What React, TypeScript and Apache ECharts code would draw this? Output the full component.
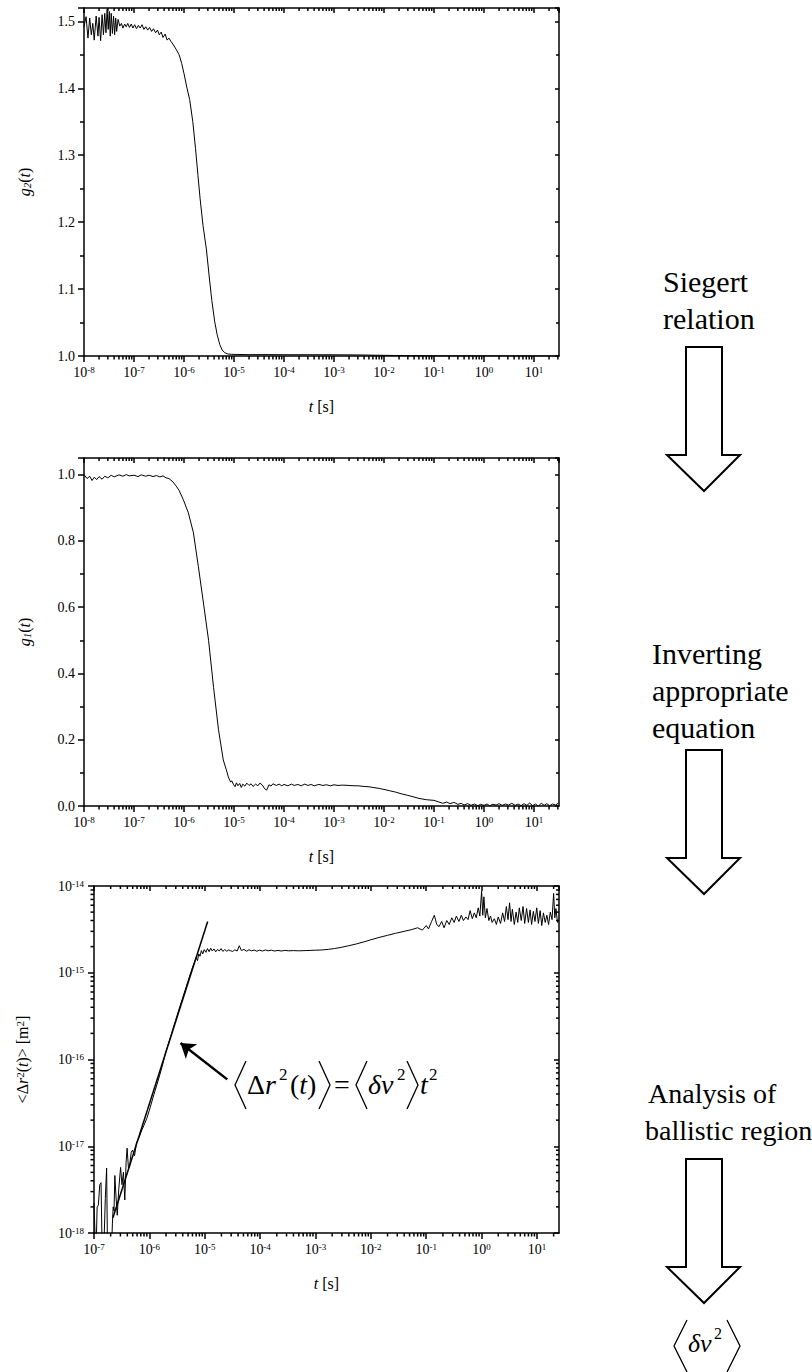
import React, { useEffect, useRef } from 'react';
import * as echarts from 'echarts';

const FONT = '"Liberation Serif", "Times New Roman", Times, serif';

// g2(t) intensity autocorrelation: [t (s), g2]
const g2Data: number[][] = [
  [1e-8, 1.492], [1.1e-8, 1.507], [1.2e-8, 1.475], [1.3e-8, 1.505], [1.4e-8, 1.48], [1.5e-8, 1.497],
  [1.6e-8, 1.472], [1.75e-8, 1.508], [1.9e-8, 1.478], [2.0e-8, 1.506], [2.15e-8, 1.471], [2.3e-8, 1.51],
  [2.45e-8, 1.48], [2.6e-8, 1.512], [2.75e-8, 1.483], [2.9e-8, 1.518], [3.05e-8, 1.488], [3.2e-8, 1.515],
  [3.35e-8, 1.478], [3.5e-8, 1.512], [3.7e-8, 1.482], [3.9e-8, 1.508], [4.1e-8, 1.48], [4.3e-8, 1.505],
  [4.5e-8, 1.485], [4.8e-8, 1.503], [5.2e-8, 1.493], [5.6e-8, 1.497], [6.0e-8, 1.49], [6.5e-8, 1.496],
  [7.0e-8, 1.492], [7.5e-8, 1.497], [8.1e-8, 1.491], [8.8e-8, 1.496], [9.5e-8, 1.49], [1.03e-7, 1.495],
  [1.12e-7, 1.489], [1.22e-7, 1.494], [1.33e-7, 1.49], [1.45e-7, 1.495], [1.58e-7, 1.488], [1.72e-7, 1.492],
  [1.88e-7, 1.487], [2.05e-7, 1.491], [2.25e-7, 1.485], [2.45e-7, 1.489], [2.7e-7, 1.483], [2.95e-7, 1.487],
  [3.2e-7, 1.48], [3.5e-7, 1.484], [3.8e-7, 1.476], [4.2e-7, 1.481], [4.6e-7, 1.472], [5.0e-7, 1.475],
  [5.5e-7, 1.47], [6.0e-7, 1.466], [7.0e-7, 1.458], [8.0e-7, 1.45], [9.0e-7, 1.437], [1.0e-6, 1.422],
  [1.15e-6, 1.4], [1.3e-6, 1.383], [1.5e-6, 1.35], [1.7e-6, 1.31], [1.9e-6, 1.27], [2.1e-6, 1.235],
  [2.4e-6, 1.195], [2.8e-6, 1.16], [3.2e-6, 1.118], [3.6e-6, 1.083], [4.1e-6, 1.052], [4.6e-6, 1.032],
  [5.2e-6, 1.017], [5.8e-6, 1.009], [6.5e-6, 1.005], [7.5e-6, 1.003], [9e-6, 1.0025], [1.2e-5, 1.0023],
  [2e-5, 1.002], [5e-5, 1.0021], [1e-4, 1.0019], [3e-4, 1.0019], [1e-3, 1.0018], [3e-3, 1.0016],
  [1e-2, 1.001], [3e-2, 1.0005], [1e-1, 1.0002], [1, 1.0001], [31, 1.0],
];

// g1(t) field autocorrelation: [t (s), g1]
const g1Data: number[][] = [
  [1e-8, 1.0], [1.15e-8, 0.988], [1.3e-8, 0.995], [1.45e-8, 0.982], [1.6e-8, 0.992], [1.8e-8, 0.985],
  [2.0e-8, 0.994], [2.3e-8, 0.986], [2.6e-8, 0.995], [3.0e-8, 0.99], [3.5e-8, 0.998], [4e-8, 0.993],
  [5e-8, 0.999], [6e-8, 0.995], [7e-8, 1.0], [8e-8, 0.996], [1e-7, 0.998], [1.2e-7, 0.994],
  [1.4e-7, 0.999], [1.7e-7, 0.995], [2e-7, 0.998], [2.4e-7, 0.994], [2.8e-7, 0.997], [3.3e-7, 0.993],
  [3.8e-7, 0.996], [4.4e-7, 0.99], [5e-7, 0.988], [6e-7, 0.978], [7e-7, 0.965], [8e-7, 0.952],
  [9.7e-7, 0.924], [1.22e-6, 0.885], [1.54e-6, 0.825], [1.94e-6, 0.722], [2.4e-6, 0.622], [3.1e-6, 0.5],
  [3.9e-6, 0.358], [4.9e-6, 0.23], [6.1e-6, 0.139], [7.0e-6, 0.11], [7.7e-6, 0.088], [8.2e-6, 0.078],
  [8.6e-6, 0.072], [9.0e-6, 0.076], [9.7e-6, 0.066], [1.05e-5, 0.058], [1.12e-5, 0.07], [1.2e-5, 0.061],
  [1.3e-5, 0.068], [1.4e-5, 0.056], [1.5e-5, 0.066], [1.65e-5, 0.06], [1.8e-5, 0.069], [2.0e-5, 0.062],
  [2.2e-5, 0.067], [2.4e-5, 0.059], [2.7e-5, 0.066], [3.0e-5, 0.061], [3.3e-5, 0.069], [3.7e-5, 0.063],
  [4.1e-5, 0.052], [4.5e-5, 0.048], [5e-5, 0.064], [5.5e-5, 0.06], [6e-5, 0.067], [7e-5, 0.062],
  [8e-5, 0.066], [9e-5, 0.061], [1e-4, 0.065], [1.2e-4, 0.061], [1.4e-4, 0.066], [1.6e-4, 0.062],
  [1.9e-4, 0.065], [2.2e-4, 0.061], [2.6e-4, 0.066], [3e-4, 0.062], [3.5e-4, 0.065], [4e-4, 0.061],
  [5e-4, 0.065], [6e-4, 0.062], [7e-4, 0.064], [8.5e-4, 0.061], [1e-3, 0.064], [1.2e-3, 0.062],
  [1.5e-3, 0.063], [2e-3, 0.062], [2.5e-3, 0.061], [3e-3, 0.061], [4e-3, 0.059], [5e-3, 0.058],
  [6e-3, 0.056], [8e-3, 0.053], [1e-2, 0.05], [1.3e-2, 0.046], [1.7e-2, 0.042], [2.2e-2, 0.037],
  [3e-2, 0.032], [4e-2, 0.027], [5e-2, 0.023], [7e-2, 0.019], [1e-1, 0.017], [1.2e-1, 0.013],
  [1.5e-1, 0.008], [1.8e-1, 0.012], [2.1e-1, 0.007], [2.5e-1, 0.011], [3e-1, 0.005], [3.5e-1, 0.008],
  [4e-1, 0.003], [4.7e-1, 0.007], [5.5e-1, 0.002], [6.5e-1, 0.006], [7.5e-1, 0.001], [8.5e-1, 0.005],
  [1.0, 0.002], [1.15, 0.006], [1.3, 0.001], [1.5, 0.005], [1.75, 0.003], [2.0, 0.007],
  [2.3, 0.002], [2.7, 0.006], [3.1, 0.003], [3.6, 0.008], [4.2, 0.002], [4.8, 0.006],
  [5.5, 0.001], [6.3, 0.007], [7.2, 0.002], [8.2, 0.009], [9.4, 0.001], [10.7, 0.006],
  [12.2, 0.0], [14, 0.008], [16, 0.002], [18, 0.007], [20.5, 0.001], [23.5, 0.006], [27, 0.003], [31, 0.009],
];

// mean square displacement <Δr²(t)> [m²]
const msdData: number[][] = [
  [1.0e-7, 2.2e-18], [1.08e-7, 5e-19], [1.14e-7, 2.0e-18], [1.2e-7, 2.1e-18], [1.27e-7, 3.6e-18],
  [1.34e-7, 3.8e-18], [1.41e-7, 5e-19], [1.5e-7, 6e-19], [1.6e-7, 2.5e-18], [1.69e-7, 5.6e-18],
  [1.76e-7, 5e-19], [1.85e-7, 6e-19], [1.95e-7, 8e-19], [2.05e-7, 5e-19], [2.15e-7, 1.3e-18],
  [2.22e-7, 2.0e-18], [2.3e-7, 1.8e-18], [2.38e-7, 4.6e-18], [2.5e-7, 2.6e-18], [2.63e-7, 1.6e-18],
  [2.8e-7, 3.2e-18], [3.02e-7, 5.7e-18], [3.2e-7, 3.6e-18], [3.4e-7, 5.0e-18], [3.6e-7, 2.4e-18],
  [3.8e-7, 6.5e-18], [3.96e-7, 9.5e-18], [4.2e-7, 5.5e-18], [4.4e-7, 6e-18], [4.7e-7, 8.5e-18],
  [4.95e-7, 9e-18], [5.4e-7, 7.8e-18], [5.85e-7, 1.1e-17], [6.5e-7, 1.25e-17], [7.2e-7, 1.5e-17],
  [8.0e-7, 1.75e-17], [9.0e-7, 2.1e-17], [1.0e-6, 2.6e-17], [1.2e-6, 3.9e-17], [1.45e-6, 5.8e-17],
  [1.7e-6, 8.3e-17], [2.0e-6, 1.25e-16], [2.4e-6, 1.8e-16], [2.8e-6, 2.5e-16], [3.3e-6, 3.5e-16],
  [3.9e-6, 4.9e-16], [4.5e-6, 6.5e-16], [5.2e-6, 8.7e-16], [6.0e-6, 1.15e-15], [6.6e-6, 1.35e-15],
  [7.0e-6, 1.5e-15], [7.4e-6, 1.38e-15], [7.8e-6, 1.65e-15], [8.2e-6, 1.55e-15], [8.7e-6, 1.8e-15],
  [9.2e-6, 1.65e-15], [9.8e-6, 1.85e-15], [1.05e-5, 1.72e-15], [1.12e-5, 1.9e-15], [1.2e-5, 1.75e-15],
  [1.28e-5, 1.92e-15], [1.37e-5, 1.78e-15], [1.47e-5, 1.88e-15], [1.58e-5, 1.74e-15], [1.7e-5, 1.86e-15],
  [1.83e-5, 1.78e-15], [1.97e-5, 1.9e-15], [2.12e-5, 1.76e-15], [2.3e-5, 1.85e-15], [2.5e-5, 1.77e-15],
  [2.7e-5, 1.83e-15], [2.95e-5, 1.79e-15], [3.2e-5, 1.76e-15], [3.5e-5, 1.84e-15], [3.85e-5, 1.78e-15],
  [4.2e-5, 2.05e-15], [4.6e-5, 1.8e-15], [5.1e-5, 1.86e-15], [5.7e-5, 1.77e-15], [6.3e-5, 1.84e-15],
  [7e-5, 1.79e-15], [7.8e-5, 1.83e-15], [8.7e-5, 1.77e-15], [9.7e-5, 1.82e-15], [1.1e-4, 1.78e-15],
  [1.25e-4, 1.83e-15], [1.4e-4, 1.79e-15], [1.6e-4, 1.82e-15], [1.8e-4, 1.78e-15], [2.1e-4, 1.81e-15],
  [2.4e-4, 1.78e-15], [2.8e-4, 1.81e-15], [3.3e-4, 1.79e-15], [4e-4, 1.8e-15], [5e-4, 1.79e-15],
  [6.5e-4, 1.8e-15], [8e-4, 1.81e-15], [1e-3, 1.82e-15], [1.3e-3, 1.83e-15], [1.7e-3, 1.86e-15],
  [2.2e-3, 1.9e-15], [3e-3, 1.97e-15], [4e-3, 2.05e-15], [5.5e-3, 2.15e-15], [7.5e-3, 2.27e-15],
  [1e-2, 2.4e-15], [1.4e-2, 2.55e-15], [2e-2, 2.7e-15], [2.8e-2, 2.85e-15], [4e-2, 3.0e-15],
  [5.5e-2, 3.15e-15], [7e-2, 3.3e-15], [8.5e-2, 3.1e-15], [1e-1, 3.5e-15], [1.1e-1, 3.2e-15],
  [1.25e-1, 3.9e-15], [1.4e-1, 4.6e-15], [1.55e-1, 3.6e-15], [1.7e-1, 3.4e-15], [1.9e-1, 3.9e-15],
  [2.1e-1, 3.3e-15], [2.35e-1, 4.0e-15], [2.6e-1, 3.6e-15], [2.9e-1, 4.3e-15], [3.2e-1, 3.8e-15],
  [3.5e-1, 4.5e-15], [3.9e-1, 3.9e-15], [4.3e-1, 4.6e-15], [4.7e-1, 4.0e-15], [5.2e-1, 4.4e-15],
  [5.7e-1, 4.1e-15], [6.2e-1, 5.2e-15], [6.8e-1, 4.2e-15], [7.4e-1, 4.9e-15], [8e-1, 4.3e-15],
  [8.7e-1, 5.6e-15], [9.3e-1, 4.5e-15], [1.0, 8.7e-15], [1.05, 4.6e-15], [1.1, 7.5e-15],
  [1.17, 4.3e-15], [1.25, 5.5e-15], [1.35, 4.0e-15], [1.45, 4.5e-15], [1.55, 3.8e-15],
  [1.7, 4.2e-15], [1.85, 3.6e-15], [2.0, 4.4e-15], [2.2, 3.7e-15], [2.4, 4.9e-15],
  [2.6, 3.9e-15], [2.8, 5.8e-15], [3.0, 4.1e-15], [3.2, 6.4e-15], [3.4, 3.9e-15],
  [3.6, 5.4e-15], [3.9, 3.6e-15], [4.2, 5.0e-15], [4.5, 3.8e-15], [4.8, 5.6e-15],
  [5.2, 4.0e-15], [5.6, 5.8e-15], [6.0, 3.7e-15], [6.5, 5.5e-15], [7.0, 3.8e-15],
  [7.5, 5.3e-15], [8.0, 3.6e-15], [8.6, 5.1e-15], [9.2, 3.9e-15], [9.9, 5.6e-15],
  [10.6, 3.7e-15], [11.4, 5.2e-15], [12.2, 3.5e-15], [13.1, 4.9e-15], [14.1, 3.8e-15],
  [15.1, 4.6e-15], [16.2, 3.6e-15], [17.4, 5.0e-15], [18.7, 4.1e-15], [20, 8.2e-15],
  [21, 4.3e-15], [22, 5.5e-15], [23.5, 3.8e-15], [25, 4.0e-15],
];

// ballistic fit <Δr²> = <δv²> t²
const fitData: number[][] = [[2.2e-7, 1.5e-18], [1.13e-5, 3.9e-15]];
// annotation arrow (tail -> tip) in data coordinates of the MSD panel
const noteArrow: number[][] = [[2.55e-5, 5.9e-17], [3.65e-6, 1.55e-16]];

// axis ranges
const g2Y = { min: 1.0, max: 1.52, interval: 0.1 };
const g1Y = { min: 0, max: 1.05, interval: 0.2 };
const tRangeTop = { min: 1e-8, max: 31.62 };
const tRangeBottom = { min: 1e-7, max: 25 };
const msdY = { min: 1e-18, max: 1e-14 };

const BLACK = '#000';

const tickRich = {
  b: { fontFamily: FONT, fontSize: 14, color: BLACK },
  s: { fontFamily: FONT, fontSize: 9, color: BLACK, verticalAlign: 'top' },
};
const nameRich = {
  n: { fontFamily: FONT, fontSize: 16, color: BLACK },
  i: { fontFamily: FONT, fontSize: 16, fontStyle: 'italic', color: BLACK },
  sub: { fontFamily: FONT, fontSize: 11, fontStyle: 'italic', verticalAlign: 'bottom', color: BLACK },
  sup: { fontFamily: FONT, fontSize: 11, verticalAlign: 'top', color: BLACK },
};

const powLabel = (v: number) => {
  const e = Math.log10(v);
  const r = Math.round(e);
  if (Math.abs(e - r) > 1e-6) return '';
  return `{b|10}{s|${r}}`;
};
const decLabel = (step: number) => (v: number) => {
  const k = v / step;
  if (Math.abs(k - Math.round(k)) > 1e-6) return '';
  return v.toFixed(1);
};

// minor tick positions of a logarithmic axis (2..9 × 10^n)
const logMinor = (lo: number, hi: number) => {
  const out: number[] = [];
  for (let e = Math.floor(Math.log10(lo)); e <= Math.ceil(Math.log10(hi)); e++) {
    for (let k = 2; k <= 9; k++) {
      const v = k * Math.pow(10, e);
      if (v > lo * 1.0000001 && v < hi * 0.9999999) out.push(v);
    }
  }
  return out;
};

const axisLine = { show: true, onZero: false, lineStyle: { color: BLACK, width: 1.5 } };

const bottomLogX = (gridIndex: number, r: { min: number; max: number }) => ({
  type: 'log', gridIndex, position: 'bottom', min: r.min, max: r.max, logBase: 10, splitNumber: 10,
  axisLine, splitLine: { show: false },
  axisTick: { show: true, inside: false, length: 6, lineStyle: { color: BLACK, width: 1.5 } },
  axisLabel: { show: true, margin: 9, formatter: powLabel, rich: tickRich, showMaxLabel: false },
  name: '{i|t}{n| [s]}', nameLocation: 'middle', nameGap: 42,
  nameTextStyle: { fontFamily: FONT, fontSize: 16, color: BLACK, rich: nameRich },
});
const topLogX = (gridIndex: number, r: { min: number; max: number }) => ({
  type: 'log', gridIndex, position: 'top', min: r.min, max: r.max, logBase: 10, splitNumber: 10,
  axisLine, splitLine: { show: false },
  axisTick: { show: true, inside: true, length: 5, lineStyle: { color: BLACK, width: 1.5 } },
  axisLabel: { show: false },
});
const leftLinY = (gridIndex: number, r: { min: number; max: number; interval: number }, name: string) => ({
  type: 'value', gridIndex, position: 'left', min: r.min, max: r.max, interval: r.interval,
  axisLine, splitLine: { show: false },
  axisTick: { show: true, inside: false, length: 6, lineStyle: { color: BLACK, width: 1.5 } },
  minorTick: { show: true, splitNumber: 2, length: 4, lineStyle: { color: BLACK, width: 1.5 } },
  axisLabel: { show: true, margin: 9, fontFamily: FONT, fontSize: 14, color: BLACK, formatter: decLabel(r.interval), showMaxLabel: false },
  name, nameLocation: 'middle', nameRotate: 90, nameGap: 52,
  nameTextStyle: { fontFamily: FONT, fontSize: 16, color: BLACK, rich: nameRich },
});
const rightLinY = (gridIndex: number, r: { min: number; max: number; interval: number }) => ({
  type: 'value', gridIndex, position: 'right', min: r.min, max: r.max, interval: r.interval,
  axisLine, splitLine: { show: false },
  axisTick: { show: true, inside: true, length: 4, lineStyle: { color: BLACK, width: 1.5 } },
  minorTick: { show: true, splitNumber: 2, length: 3, lineStyle: { color: BLACK, width: 1.5 } },
  axisLabel: { show: false },
});

const tickLine = (x1: number, y1: number, x2: number, y2: number) => ({
  type: 'line', shape: { x1, y1, x2, y2 }, style: { stroke: BLACK, lineWidth: 1.5 },
});

const minorXSeries = (axisIndex: number, r: { min: number; max: number }, yRef: number) => ({
  type: 'custom', xAxisIndex: axisIndex, yAxisIndex: axisIndex, silent: true, clip: false, z: 5,
  data: logMinor(r.min, r.max).map((v) => [v, yRef]),
  renderItem: (params: any, api: any) => {
    const cs = params.coordSys;
    const x = api.coord([api.value(0), api.value(1)])[0];
    const b = cs.y + cs.height;
    return {
      type: 'group',
      children: [tickLine(x, b, x, b + 3.5), tickLine(x, cs.y, x, cs.y + 3)],
    };
  },
});
const minorYSeries = (axisIndex: number, r: { min: number; max: number }, xRef: number) => ({
  type: 'custom', xAxisIndex: axisIndex, yAxisIndex: axisIndex, silent: true, clip: false, z: 5,
  data: logMinor(r.min, r.max).map((v) => [xRef, v]),
  renderItem: (params: any, api: any) => {
    const cs = params.coordSys;
    const y = api.coord([api.value(0), api.value(1)])[1];
    const rgt = cs.x + cs.width;
    return {
      type: 'group',
      children: [tickLine(cs.x, y, cs.x - 3.5, y), tickLine(rgt, y, rgt - 3, y)],
    };
  },
});

const lineSeries = (idx: number, data: number[][], width = 1) => ({
  type: 'line', xAxisIndex: idx, yAxisIndex: idx, data, showSymbol: false, symbol: 'none',
  silent: true, clip: true, lineStyle: { color: BLACK, width }, z: 3,
});

// right-hand annotations
const text = (t: string, x: number, y: number, size: number, extra: any = {}) => ({
  type: 'text', x, y, silent: true,
  style: {
    text: t, fill: BLACK, fontFamily: FONT, fontSize: size, align: 'left', verticalAlign: 'middle', ...extra,
  },
});
const blockArrow = (top: number, head: number, tip: number) => ({
  type: 'polygon', silent: true,
  shape: { points: [[686, top], [722, top], [722, head], [740, head], [704, tip], [667, head], [686, head]] },
  style: { fill: '#fff', stroke: BLACK, lineWidth: 2 },
});
const bracket = (pts: number[][]) => ({
  type: 'polyline', silent: true, shape: { points: pts }, style: { stroke: BLACK, lineWidth: 1.3, fill: null },
});
const fRich = {
  n: { fontFamily: FONT, fontSize: 28, color: BLACK },
  i: { fontFamily: FONT, fontSize: 28, fontStyle: 'italic', color: BLACK },
};

export default function App() {
  const ref = useRef<HTMLDivElement>(null);
  useEffect(() => {
    if (!ref.current) return;
    const chart = echarts.init(ref.current, undefined, { renderer: 'svg' });
    const option: any = {
      animation: false,
      backgroundColor: '#fff',
      grid: [
        { left: 84, top: 8, width: 475, height: 348 },
        { left: 84, top: 458, width: 475, height: 348 },
        { left: 94, top: 886, width: 465, height: 347 },
      ],
      xAxis: [
        bottomLogX(0, tRangeTop), topLogX(0, tRangeTop),
        bottomLogX(1, tRangeTop), topLogX(1, tRangeTop),
        bottomLogX(2, tRangeBottom), topLogX(2, tRangeBottom),
      ],
      yAxis: [
        leftLinY(0, g2Y, '{i|g}{sub|2}{n|(}{i|t}{n|)}'), rightLinY(0, g2Y),
        leftLinY(1, g1Y, '{i|g}{sub|1}{n|(}{i|t}{n|)}'), rightLinY(1, g1Y),
        {
          type: 'log', gridIndex: 2, position: 'left', min: msdY.min, max: msdY.max, logBase: 10, splitNumber: 4,
          axisLine, splitLine: { show: false },
          axisTick: { show: true, inside: false, length: 6, lineStyle: { color: BLACK, width: 1.5 } },
          axisLabel: { show: true, margin: 10, formatter: powLabel, rich: tickRich },
          name: '{n|<Δ}{i|r}{sup|2}{n|(}{i|t}{n|)> [m}{sup|2}{n|]}',
          nameLocation: 'middle', nameRotate: 90, nameGap: 64,
          nameTextStyle: { fontFamily: FONT, fontSize: 16, color: BLACK, rich: nameRich },
        },
        {
          type: 'log', gridIndex: 2, position: 'right', min: msdY.min, max: msdY.max, logBase: 10, splitNumber: 4,
          axisLine, splitLine: { show: false },
          axisTick: { show: true, inside: true, length: 5, lineStyle: { color: BLACK, width: 1.5 } },
          axisLabel: { show: false },
        },
      ],
      series: [
        lineSeries(0, g2Data),
        lineSeries(2, g1Data),
        lineSeries(4, msdData),
        lineSeries(4, fitData, 1.5),
        {
          type: 'lines', coordinateSystem: 'cartesian2d', xAxisIndex: 4, yAxisIndex: 4, silent: true,
          symbol: ['none', 'arrow'], symbolSize: 14,
          lineStyle: { color: BLACK, width: 2.5, opacity: 1 },
          data: [{ coords: noteArrow }],
        },
        minorXSeries(0, tRangeTop, 1.2),
        minorXSeries(2, tRangeTop, 0.5),
        minorXSeries(4, tRangeBottom, 1e-16),
        minorYSeries(4, msdY, 1e-3),
      ],
      graphic: [
        text('Siegert', 663, 281, 30),
        text('relation', 663, 318, 30),
        blockArrow(347, 455, 491),
        text('Inverting', 652, 653, 30),
        text('appropriate', 652, 690, 30),
        text('equation', 652, 727, 30),
        blockArrow(750, 858, 894),
        text('Analysis of', 648, 1093, 28),
        text('ballistic region', 645, 1130, 28),
        blockArrow(1159, 1267, 1303),
        // <δv²> result
        bracket([[687, 1320], [674, 1346], [687, 1372]]),
        text('δv', 688, 1343, 26, { fontStyle: 'italic' }),
        text('2', 714, 1333, 16),
        bracket([[727, 1320], [740, 1346], [727, 1372]]),
        // formula <Δr²(t)> = <δv²> t²
        bracket([[246, 1061], [235, 1085], [246, 1109]]),
        text('{n|Δ}{i|r}', 247, 1084, 28, { rich: fRich }),
        text('2', 279, 1074, 17),
        text('{n|(}{i|t}{n|)}', 290, 1084, 28, { rich: fRich }),
        bracket([[319, 1061], [330, 1085], [319, 1109]]),
        text('=', 334, 1084, 28),
        bracket([[367, 1061], [356, 1085], [367, 1109]]),
        text('δv', 368, 1084, 28, { fontStyle: 'italic' }),
        text('2', 397, 1074, 17),
        bracket([[407, 1061], [418, 1085], [407, 1109]]),
        text('t', 420, 1084, 28, { fontStyle: 'italic' }),
        text('2', 429, 1074, 17),
      ],
    };
    chart.setOption(option);
    return () => chart.dispose();
  }, []);
  return (
    <div
      ref={ref}
      style={{ position: 'absolute', left: 0, top: 0, width: 812, height: 1372, background: '#fff' }}
    />
  );
}
